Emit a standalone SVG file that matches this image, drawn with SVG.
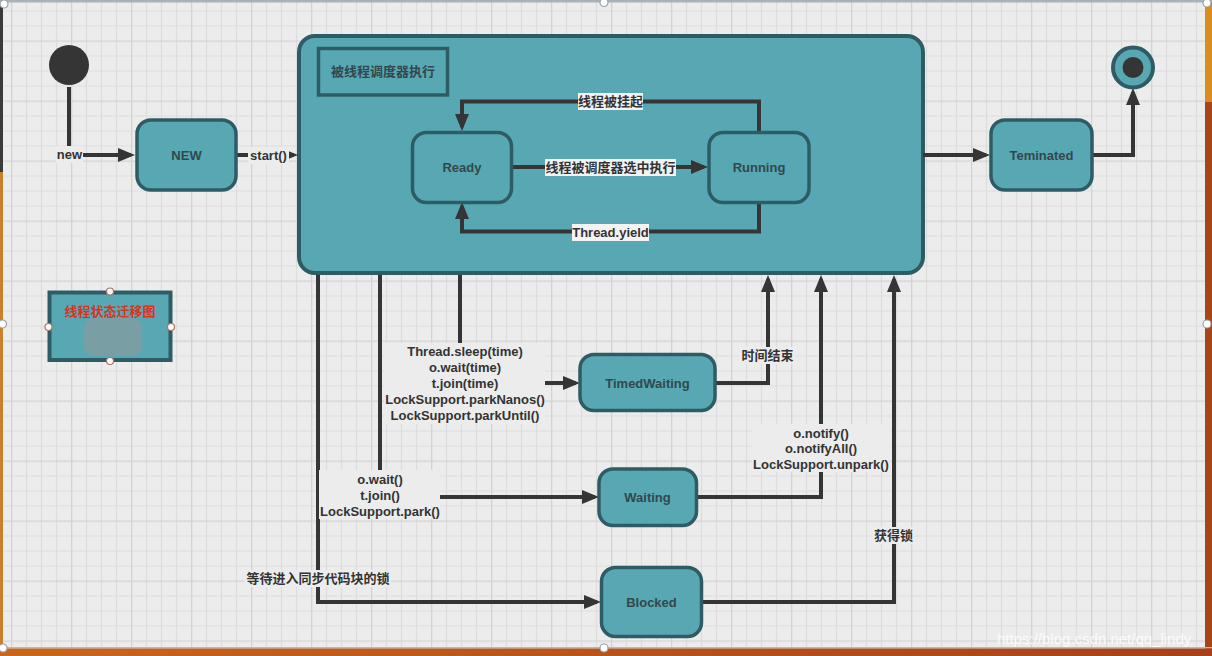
<svg xmlns="http://www.w3.org/2000/svg" width="1212" height="656" viewBox="0 0 1212 656">
<defs>
<pattern id="grid" patternUnits="userSpaceOnUse" x="11" y="40.5" width="60" height="60">
<rect width="60" height="60" fill="#ececec"/>
<path d="M15.5 0V60M30.5 0V60M45.5 0V60M0 15.5H60M0 30.5H60M0 45.5H60" stroke="#dddddd" stroke-width="1.2" fill="none"/>
<path d="M0.5 0V60M0 0.5H60" stroke="#d3d3d3" stroke-width="1.6" fill="none"/>
</pattern>
<marker id="ah" markerUnits="userSpaceOnUse" viewBox="0 0 17 14" refX="13" refY="7" markerWidth="17" markerHeight="14" orient="auto">
<path d="M0 0L17 7L0 14z" fill="#353535"/>
</marker>
<linearGradient id="bot" x1="0" y1="0" x2="1" y2="0">
<stop offset="0" stop-color="#c9661c"/>
<stop offset="1" stop-color="#a8401a"/>
</linearGradient>
</defs>
<style>
.node{fill:#58a8b4;stroke:#2e5c64;stroke-width:3.5}
.big{stroke-width:4}
.t{font-family:"Liberation Sans","Noto Sans CJK SC",sans-serif;font-size:13px;font-weight:bold;text-anchor:middle}
.nt{fill:#33474c}
.et{fill:#333333}
.edge{fill:none;stroke:#353535;stroke-width:4;marker-end:url(#ah)}
.bgw{fill:#f3f3f3}
.bgg{fill:#ececec}
.hd{fill:#ffffff;stroke:#9aa0a6;stroke-width:1.2}
.hl{fill:#ffffff;stroke:#b07060;stroke-width:1.2}
</style>
<rect width="1212" height="656" fill="url(#grid)"/>
<g id="frame">
<rect x="0" y="0" width="1212" height="2.5" fill="#a9b1b9"/>
<rect x="0" y="2" width="3" height="170" fill="#3a3a3a"/>
<rect x="0" y="172" width="3" height="480" fill="#c8802a"/>
<rect x="1205" y="2" width="7" height="100" fill="#d88d1e"/>
<rect x="1205" y="102" width="7" height="550" fill="#a8441a"/>
<rect x="0" y="647" width="1212" height="1.5" fill="#b9b9b9"/>
<rect x="0" y="648.5" width="1212" height="7.5" fill="url(#bot)"/>
<circle class="hd" cx="4" cy="4" r="4"/>
<circle class="hd" cx="604" cy="2.5" r="4"/>
<circle class="hd" cx="1207" cy="3" r="4"/>
<circle class="hd" cx="2.5" cy="324" r="4"/>
<circle class="hd" cx="1207" cy="324" r="4"/>
<circle class="hd" cx="604" cy="648" r="4"/>
<circle class="hd" cx="3" cy="648" r="4"/>
</g>
<g id="scheduler">
<rect class="node big" x="299" y="36" width="624" height="237" rx="16"/>
<rect x="318.5" y="48.5" width="129" height="46.5" fill="none" stroke="#2e5c64" stroke-width="3.5"/>
<text class="t nt" x="383" y="76" font-weight="normal">被线程调度器执行</text>
</g>
<g id="connectors">
<path class="edge" d="M69 87V155H131"/>
<path class="edge" d="M237 155H294"/>
<path class="edge" d="M759 131V101.5H462V127"/>
<path class="edge" d="M513 167H704"/>
<path class="edge" d="M759 203V231.5H462V206"/>
<path class="edge" d="M923 155H986"/>
<path class="edge" d="M1092 155H1133V92"/>
<path class="edge" d="M318 275V602H597"/>
<path class="edge" d="M380 275V497H595"/>
<path class="edge" d="M460 275V383H576"/>
<path class="edge" d="M716 383H768V279"/>
<path class="edge" d="M697 497H821V279"/>
<path class="edge" d="M703 602H894V279"/>
</g>
<g id="start">
<circle cx="69" cy="65" r="20" fill="#353535"/>
</g>
<g id="NEW">
<rect class="node" x="137" y="120" width="99" height="70" rx="14"/>
<text class="t nt" x="186.5" y="159.5">NEW</text>
</g>
<g id="Ready">
<rect class="node" x="412.5" y="132.5" width="99" height="70" rx="14"/>
<text class="t nt" x="462" y="172">Ready</text>
</g>
<g id="Running">
<rect class="node" x="709" y="132.5" width="100" height="70" rx="14"/>
<text class="t nt" x="759" y="172">Running</text>
</g>
<g id="Teminated">
<rect class="node" x="991" y="120" width="101" height="70" rx="14"/>
<text class="t nt" x="1041.5" y="159.5">Teminated</text>
</g>
<g id="end">
<circle cx="1133" cy="67.5" r="20" fill="#58a8b4" stroke="#2e5c64" stroke-width="4"/>
<circle cx="1133" cy="67.5" r="10.5" fill="#353535"/>
</g>
<g id="TimedWaiting">
<rect class="node" x="580" y="354.5" width="135" height="56" rx="14"/>
<text class="t nt" x="647.5" y="387.5">TimedWaiting</text>
</g>
<g id="Waiting">
<rect class="node" x="599" y="469" width="97.5" height="56.5" rx="14"/>
<text class="t nt" x="647.5" y="502">Waiting</text>
</g>
<g id="Blocked">
<rect class="node" x="601.5" y="567.5" width="100" height="69" rx="14"/>
<text class="t nt" x="651.5" y="606.5">Blocked</text>
</g>
<g id="legend">
<rect x="49.5" y="292.5" width="121" height="67.5" fill="#58a8b4" stroke="#2e5c64" stroke-width="4"/>
<rect x="84" y="318" width="58" height="38" rx="10" fill="#889a9c" opacity="0.7"/>
<text class="t" x="110" y="315.5" fill="#d8341e">线程状态迁移图</text>
<circle class="hl" cx="110" cy="291.5" r="3.5"/>
<circle class="hl" cx="48.5" cy="327" r="3.5"/>
<circle class="hl" cx="171" cy="327" r="3.5"/>
<circle class="hl" cx="110" cy="361" r="3.5"/>
</g>
<g id="labels">
<rect class="bgg" x="56" y="146" width="27" height="17"/>
<text class="t et" x="69.5" y="159">new</text>
<rect class="bgg" x="248" y="147" width="41" height="17"/>
<text class="t et" x="268.5" y="160">start()</text>
<rect class="bgw" x="578" y="93" width="65" height="17"/>
<text class="t et" x="610.5" y="106">线程被挂起</text>
<rect class="bgw" x="545" y="159" width="131" height="17"/>
<text class="t et" x="610.5" y="172">线程被调度器选中执行</text>
<rect class="bgw" x="572" y="224" width="77" height="17"/>
<text class="t et" x="610.5" y="237">Thread.yield</text>
<rect class="bgg" x="384" y="343" width="161" height="81"/>
<text class="t et" x="465" y="356">Thread.sleep(time)</text>
<text class="t et" x="465" y="372">o.wait(time)</text>
<text class="t et" x="465" y="388">t.join(time)</text>
<text class="t et" x="465" y="404">LockSupport.parkNanos()</text>
<text class="t et" x="465" y="420">LockSupport.parkUntil()</text>
<rect class="bgg" x="319" y="470" width="121" height="49"/>
<text class="t et" x="380" y="484">o.wait()</text>
<text class="t et" x="380" y="500">t.join()</text>
<text class="t et" x="380" y="516">LockSupport.park()</text>
<rect class="bgg" x="245" y="570" width="146" height="17"/>
<text class="t et" x="318" y="583">等待进入同步代码块的锁</text>
<rect class="bgg" x="740" y="347" width="55" height="17"/>
<text class="t et" x="767.5" y="360">时间结束</text>
<rect class="bgg" x="752" y="424" width="138" height="48"/>
<text class="t et" x="821" y="437.5">o.notify()</text>
<text class="t et" x="821" y="453">o.notifyAll()</text>
<text class="t et" x="821" y="468.5">LockSupport.unpark()</text>
<rect class="bgg" x="873" y="527" width="41" height="17"/>
<text class="t et" x="893.5" y="540">获得锁</text>
</g>
<text x="997" y="644" font-family="Liberation Sans, sans-serif" font-size="15" fill="#ffffff" opacity="0.85">https://blog.csdn.net/qq_lindy</text>
</svg>
